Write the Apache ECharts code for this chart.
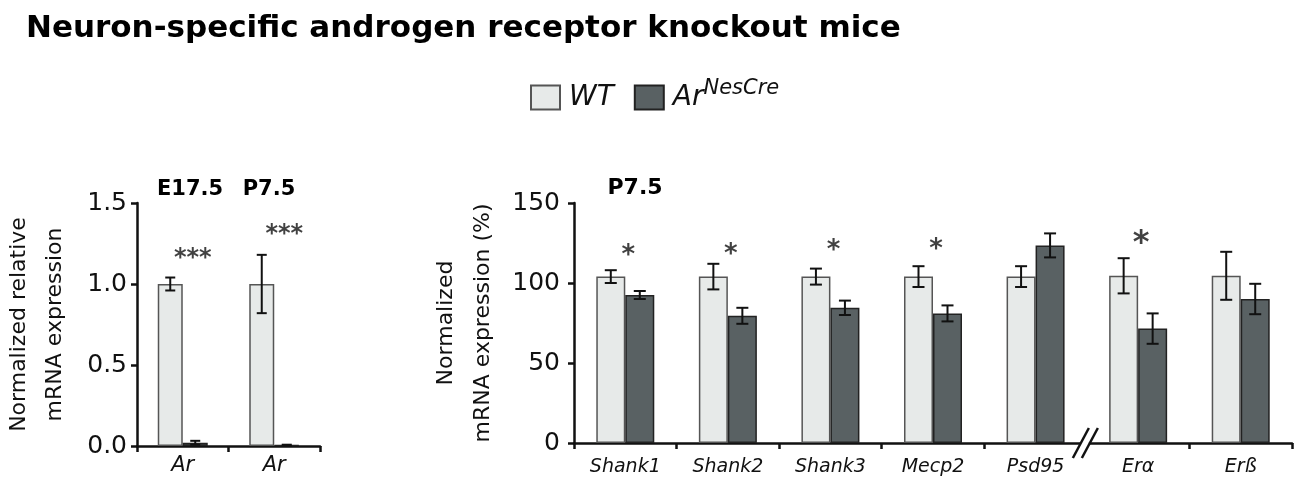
<!DOCTYPE html>
<html>
<head>
<meta charset="utf-8">
<script src="https://cdn.jsdelivr.net/npm/echarts@6.0.0/dist/echarts.min.js"></script>
<style>
  html, body { margin: 0; padding: 0; background: #fff; }
  #chart { width: 1300px; height: 488px; }
</style>
</head>
<body>
<div id="chart"></div>
<script>
// left panel: Ar at E17.5 and P7.5
var arCats = ['Ar', 'Ar '];
var arWT = [1.0, 1.0];
var arWTErr = [0.04, 0.18];
var arKO = [0.02, 0.005];
var arKOErr = [0.012, 0.003];
var arSig = ['***', '***'];
var arSigY = [1.2, 1.345];

// right panel: P7.5 genes (%)
var genes = ['Shank1', 'Shank2', 'Shank3', 'Mecp2', 'Psd95', 'Erα', 'Erß'];
var geneWT = [104, 104, 104, 104, 104, 104.5, 104.5];
var geneWTErr = [4, 8, 5, 6.5, 6.5, 11, 15];
var geneKO = [92.5, 79.5, 84.5, 81, 123.5, 71.5, 90];
var geneKOErr = [2.5, 5, 4.5, 5, 7.5, 9.5, 9.5];
var geneSig = ['*', '*', '*', '*', '', '*', ''];
var geneSigY = [121, 122, 124, 125, 0, 129, 0];

var FONT = 'DejaVu Sans';
var WT_COLOR = '#e7eae9';
var KO_COLOR = '#596163';

var myChart = echarts.init(document.getElementById('chart'));

function errSeries(name, axis, vals, errs, side, barW, capW) {
	var data = vals.map(function (v, i) {
		return [i, v - errs[i], v + errs[i]];
	});
	return {
		type: 'custom',
		name: name + ' err',
		xAxisIndex: axis,
		yAxisIndex: axis,
		z: 5,
		silent: true,
		renderItem: function (params, api) {
			var lo = api.coord([api.value(0), api.value(1)]);
			var hi = api.coord([api.value(0), api.value(2)]);
			var x = lo[0] + side * barW / 2;
			var st = { stroke: '#111', lineWidth: 2 };
			return {
				type: 'group',
				children: [
					{ type: 'line', shape: { x1: x, y1: lo[1], x2: x, y2: hi[1] }, style: st },
					{ type: 'line', shape: { x1: x - capW / 2, y1: lo[1], x2: x + capW / 2, y2: lo[1] }, style: st },
					{ type: 'line', shape: { x1: x - capW / 2, y1: hi[1], x2: x + capW / 2, y2: hi[1] }, style: st }
				]
			};
		},
		data: data
	};
}

function sigSeries(axis, cats, marks, ys, size, dx) {
	var data = [];
	marks.forEach(function (m, i) {
		if (m) {
			var big = cats[i] === 'Erα';
			data.push({
				value: [i, ys[i]],
				label: { formatter: m, fontSize: big ? size + 6 : size }
			});
		}
	});
	return {
		type: 'scatter',
		xAxisIndex: axis,
		yAxisIndex: axis,
		symbolSize: 1,
		itemStyle: { color: 'rgba(0,0,0,0)' },
		silent: true,
		label: {
			show: true,
			position: 'inside',
			offset: [dx, 7],
			color: '#111',
			fontFamily: FONT,
			fontWeight: 'bold',
			fontSize: size
		},
		data: data
	};
}

var axisLine = { show: true, lineStyle: { color: '#111', width: 2.5 } };
var tickStyle = { show: true, length: 6, lineStyle: { color: '#111', width: 2.5 } };

var option = {
	backgroundColor: '#fff',
	animation: false,
	title: [{
		text: 'Neuron-specific androgen receptor knockout mice',
		left: 21,
		top: 8,
		textStyle: { fontFamily: FONT, fontWeight: 'bold', fontSize: 31, color: '#000' }
	}, {
		text: 'E17.5',
		left: 185,
		top: 174,
		textAlign: 'center',
		textStyle: { fontFamily: FONT, fontWeight: 'bold', fontSize: 21, color: '#000' }
	}, {
		text: 'P7.5',
		left: 264,
		top: 174,
		textAlign: 'center',
		textStyle: { fontFamily: FONT, fontWeight: 'bold', fontSize: 21, color: '#000' }
	}, {
		text: 'P7.5',
		left: 630,
		top: 172,
		textAlign: 'center',
		textStyle: { fontFamily: FONT, fontWeight: 'bold', fontSize: 22, color: '#000' }
	}],
	legend: {
		data: ['WT', 'KO'],
		left: 525,
		top: 73,
		itemWidth: 29,
		itemHeight: 24,
		itemGap: 20,
		itemStyle: { borderWidth: 2 },
		icon: 'rect',
		selectedMode: false,
		formatter: function (name) {
			return name === 'WT' ? '{it|WT}' : '{it|Ar}{sup|NesCre}';
		},
		textStyle: {
			padding: [0, 0, 0, 4],
			rich: {
				it: { fontFamily: FONT, fontStyle: 'italic', fontSize: 28, color: '#111' },
				sup: { fontFamily: FONT, fontStyle: 'italic', fontSize: 21, color: '#111', padding: [0, 0, 18, 0] }
			}
		}
	},
	grid: [
		{ left: 136, top: 203, width: 184, height: 243 },
		{ left: 574, top: 203, width: 718, height: 240 }
	],
	xAxis: [{
		type: 'category',
		gridIndex: 0,
		data: arCats,
		axisLine: axisLine,
		axisTick: tickStyle,
		axisLabel: {
			margin: 9, color: '#111', fontFamily: FONT, fontStyle: 'italic', fontSize: 21,
			formatter: function (v) { return v.trim(); }
		}
	}, {
		type: 'category',
		gridIndex: 1,
		data: genes,
		axisLine: axisLine,
		axisTick: {
			show: true, length: 6, lineStyle: { color: '#111', width: 2.5 },
			interval: function (i) { return i !== 5; }
		},
		axisLabel: { margin: 15, color: '#111', fontFamily: FONT, fontStyle: 'italic', fontSize: 19 }
	}],
	yAxis: [{
		type: 'value',
		gridIndex: 0,
		min: 0,
		max: 1.5,
		interval: 0.5,
		name: 'Normalized relative\nmRNA expression',
		nameLocation: 'middle',
		nameGap: 64,
		nameTextStyle: { fontFamily: FONT, fontSize: 22, color: '#111', lineHeight: 36 },
		axisLine: axisLine,
		axisTick: tickStyle,
		splitLine: { show: false },
		axisLabel: {
			margin: 10, color: '#111', fontFamily: FONT, fontSize: 25,
			formatter: function (v) { return v.toFixed(1); }
		}
	}, {
		type: 'value',
		gridIndex: 1,
		min: 0,
		max: 150,
		interval: 50,
		name: 'Normalized\nmRNA expression (%)',
		nameLocation: 'middle',
		nameGap: 70,
		nameTextStyle: { fontFamily: FONT, fontSize: 22, color: '#111', lineHeight: 37 },
		axisLine: axisLine,
		axisTick: tickStyle,
		splitLine: { show: false },
		axisLabel: { margin: 14, color: '#111', fontFamily: FONT, fontSize: 25 }
	}],
	series: [
		{
			name: 'WT', type: 'bar', xAxisIndex: 0, yAxisIndex: 0,
			barWidth: 25, barGap: '0%', data: arWT,
			itemStyle: { color: WT_COLOR, borderColor: '#555', borderWidth: 1.5 }
		},
		{
			name: 'KO', type: 'bar', xAxisIndex: 0, yAxisIndex: 0,
			barWidth: 25, barGap: '0%', data: arKO,
			itemStyle: { color: KO_COLOR, borderColor: '#222', borderWidth: 1.5 }
		},
		{
			name: 'WT', type: 'bar', xAxisIndex: 1, yAxisIndex: 1,
			barWidth: 29, barGap: '0%', data: geneWT,
			itemStyle: { color: WT_COLOR, borderColor: '#555', borderWidth: 1.5 }
		},
		{
			name: 'KO', type: 'bar', xAxisIndex: 1, yAxisIndex: 1,
			barWidth: 29, barGap: '0%', data: geneKO,
			itemStyle: { color: KO_COLOR, borderColor: '#222', borderWidth: 1.5 }
		},
		errSeries('WT', 0, arWT, arWTErr, -1, 25, 10),
		errSeries('KO', 0, arKO, arKOErr, 1, 25, 10),
		errSeries('WT', 1, geneWT, geneWTErr, -1, 29, 12),
		errSeries('KO', 1, geneKO, geneKOErr, 1, 29, 12),
		sigSeries(0, arCats, arSig, arSigY, 24, 10),
		sigSeries(1, genes, geneSig, geneSigY, 26, 3)
	]
};
myChart.setOption(option);

// axis break mark between Psd95 and Erα
var pA = myChart.convertToPixel({ xAxisIndex: 1, yAxisIndex: 1 }, [4, 0]);
var pB = myChart.convertToPixel({ xAxisIndex: 1, yAxisIndex: 1 }, [5, 0]);
var cx = (pA[0] + pB[0]) / 2, cy = pA[1];
var brk = { stroke: '#111', lineWidth: 2.5 };
myChart.setOption({
	graphic: [
		{ type: 'rect', shape: { x: cx - 6, y: cy - 3, width: 8, height: 6 }, style: { fill: '#fff' }, z: 100 },
		{ type: 'line', shape: { x1: cx - 14, y1: cy + 15, x2: cx + 2, y2: cy - 15 }, style: brk, z: 101 },
		{ type: 'line', shape: { x1: cx - 5, y1: cy + 15, x2: cx + 11, y2: cy - 15 }, style: brk, z: 101 }
	]
});
</script>
</body>
</html>
